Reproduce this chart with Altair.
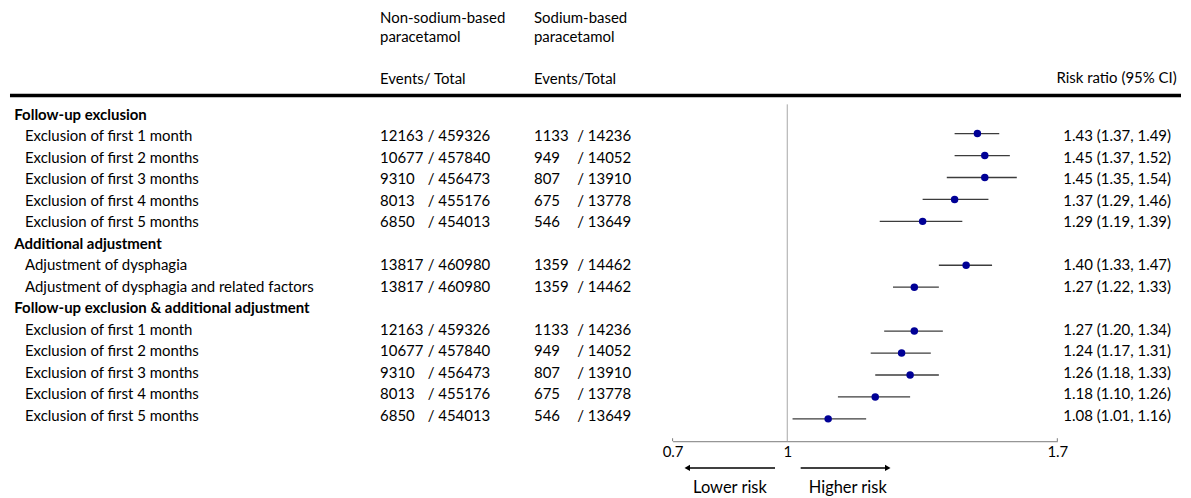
import altair as alt
import pandas as pd

# ---------------- data ----------------
row_labels = [
    "Follow-up exclusion",
    "Exclusion of first 1 month",
    "Exclusion of first 2 months",
    "Exclusion of first 3 months",
    "Exclusion of first 4 months",
    "Exclusion of first 5 months",
    "Additional adjustment",
    "Adjustment of dysphagia",
    "Adjustment of dysphagia and related factors",
    "Follow-up exclusion & additional adjustment",
    "Exclusion of first 1 month",
    "Exclusion of first 2 months",
    "Exclusion of first 3 months",
    "Exclusion of first 4 months",
    "Exclusion of first 5 months",
]
row_is_section = [True, False, False, False, False, False, True, False, False,
                  True, False, False, False, False, False]
non_events = ["", "12163", "10677", "9310", "8013", "6850", "", "13817", "13817",
              "", "12163", "10677", "9310", "8013", "6850"]
non_totals = ["", "459326", "457840", "456473", "455176", "454013", "", "460980", "460980",
              "", "459326", "457840", "456473", "455176", "454013"]
na_events = ["", "1133", "949", "807", "675", "546", "", "1359", "1359",
             "", "1133", "949", "807", "675", "546"]
na_totals = ["", "14236", "14052", "13910", "13778", "13649", "", "14462", "14462",
             "", "14236", "14052", "13910", "13778", "13649"]
rr_est = [None, 1.43, 1.45, 1.45, 1.37, 1.29, None, 1.40, 1.27,
          None, 1.27, 1.24, 1.26, 1.18, 1.08]
rr_low = [None, 1.37, 1.37, 1.35, 1.29, 1.19, None, 1.33, 1.22,
          None, 1.20, 1.17, 1.18, 1.10, 1.01]
rr_high = [None, 1.49, 1.52, 1.54, 1.46, 1.39, None, 1.47, 1.33,
           None, 1.34, 1.31, 1.33, 1.26, 1.16]

x_tick_values = [0.806, 1.0, 1.662]
x_tick_labels = ["0.7", "1", "1.7"]
header_non = ["Non-sodium-based", "paracetamol", "Events/ Total"]
header_na = ["Sodium-based", "paracetamol", "Events/Total"]
header_rr = ["Risk ratio (95% CI)"]
direction_labels = ["Lower risk", "Higher risk"]

FONT = "Lato"
FS = 15

df = pd.DataFrame({
    "row": list(range(len(row_labels))),
    "label": row_labels,
    "section": row_is_section,
    "non_ev": non_events,
    "non_tot": ["/ " + t if t else "" for t in non_totals],
    "na_ev": na_events,
    "na_tot": ["/ " + t if t else "" for t in na_totals],
    "rr": rr_est,
    "lo": rr_low,
    "hi": rr_high,
})
df["rr_txt"] = [
    f"{e:.2f} ({l:.2f}, {h:.2f})" if e is not None else ""
    for e, l, h in zip(rr_est, rr_low, rr_high)
]

W, H = 1175, 433.7

xscale = alt.Scale(type="log", domain=[x_tick_values[0], x_tick_values[-1]],
                   range=[665.3, 1051], nice=False, zero=False)
# the forest graphic and the text table use slightly different row pitches
y_plot_scale = alt.Scale(domain=[0, 14], range=[103.3, 411.3], nice=False, zero=False)
y_text_scale = alt.Scale(domain=[0, 14], range=[106.5, 408.3], nice=False, zero=False)

label_expr = (f"datum.value < 0.9 ? '{x_tick_labels[0]}' : "
              f"(datum.value > 1.2 ? '{x_tick_labels[2]}' : '{x_tick_labels[1]}')")
xaxis = alt.Axis(values=x_tick_values, labelExpr=label_expr, title=None, grid=False,
                 ticks=False, tickSize=0, domainColor="#7a7a7a", domainWidth=1,
                 labelFont=FONT, labelFontSize=FS, labelColor="black", labelPadding=3,
                 labelFlush=False, labelOverlap=False)

Yp = alt.Y("row:Q", scale=y_plot_scale, axis=None)
Yt = alt.Y("row:Q", scale=y_text_scale, axis=None)
base = alt.Chart(df)

layers = []

# thick header rule
layers.append(
    alt.Chart(pd.DataFrame({"a": [0]})).mark_rule(color="black", strokeWidth=3.5)
    .encode(x=alt.value(1), x2=alt.value(W), y=alt.value(87))
)
# reference line at 1
layers.append(
    alt.Chart(pd.DataFrame({"ref": [1.0]})).mark_rule(color="#a8a8a8", strokeWidth=1)
    .encode(x=alt.X("ref:Q", scale=xscale, axis=xaxis), y=alt.value(96), y2=alt.value(H))
)
# small end ticks on the axis
layers.append(
    alt.Chart(pd.DataFrame({"t": [x_tick_values[0], x_tick_values[-1]]}))
    .mark_rule(color="#7a7a7a", strokeWidth=1)
    .encode(x=alt.X("t:Q", scale=xscale, axis=xaxis), y=alt.value(H - 3), y2=alt.value(H))
)
# CI lines
layers.append(
    base.transform_filter("isValid(datum.rr)")
    .mark_rule(color="#3c3c3c", strokeWidth=1.3)
    .encode(x=alt.X("lo:Q", scale=xscale, axis=xaxis), x2="hi:Q", y=Yp)
)
# point estimates
layers.append(
    base.transform_filter("isValid(datum.rr)")
    .mark_circle(color="#000096", size=56, opacity=1)
    .encode(x=alt.X("rr:Q", scale=xscale, axis=xaxis), y=Yp)
)

def col_text(field, xpos, align="left", bold=False, filt=None):
    c = base
    if filt:
        c = c.transform_filter(filt)
    return c.mark_text(align=align, baseline="middle", font=FONT, fontSize=FS,
                       fontWeight="bold" if bold else "normal", color="black"
                       ).encode(x=alt.value(xpos), y=Yt, text=f"{field}:N")

layers.append(col_text("label", 5.3, bold=True, filt="datum.section"))
layers.append(col_text("label", 16, filt="!datum.section"))
layers.append(col_text("non_ev", 372))
layers.append(col_text("non_tot", 419.7))
layers.append(col_text("na_ev", 526.3))
layers.append(col_text("na_tot", 569.7))
layers.append(col_text("rr_txt", 1165, align="right"))

# column headers
header_y = [9, 28.5, 70.5]
for xpos, texts in [(372, header_non), (526.3, header_na)]:
    for t, yy in zip(texts, header_y):
        layers.append(
            alt.Chart(pd.DataFrame({"t": [t]})).mark_text(
                align="left", baseline="middle", font=FONT, fontSize=FS, color="black")
            .encode(text="t:N", x=alt.value(xpos), y=alt.value(yy))
        )
layers.append(
    alt.Chart(pd.DataFrame({"t": header_rr})).mark_text(
        align="right", baseline="middle", font=FONT, fontSize=FS, color="black")
    .encode(text="t:N", x=alt.value(1170.7), y=alt.value(70))
)

# direction arrows
arrow_y = 460.5
layers.append(
    alt.Chart(pd.DataFrame({"a": [0]})).mark_rule(color="black", strokeWidth=1.5)
    .encode(x=alt.value(681), x2=alt.value(768), y=alt.value(arrow_y))
)
layers.append(
    alt.Chart(pd.DataFrame({"a": [0]})).mark_rule(color="black", strokeWidth=1.5)
    .encode(x=alt.value(793.7), x2=alt.value(880), y=alt.value(arrow_y))
)
layers.append(
    alt.Chart(pd.DataFrame({"a": [0]})).mark_point(shape="triangle-left", filled=True,
                                                   color="black", size=40, opacity=1)
    .encode(x=alt.value(680), y=alt.value(arrow_y))
)
layers.append(
    alt.Chart(pd.DataFrame({"a": [0]})).mark_point(shape="triangle-right", filled=True,
                                                   color="black", size=40, opacity=1)
    .encode(x=alt.value(881), y=alt.value(arrow_y))
)
for t, xpos in zip(direction_labels, [722.8, 840.9]):
    layers.append(
        alt.Chart(pd.DataFrame({"t": [t]})).mark_text(
            align="center", baseline="middle", font=FONT, fontSize=16.5, color="black")
        .encode(text="t:N", x=alt.value(xpos), y=alt.value(481))
    )

chart = alt.layer(*layers).resolve_scale(y="independent").properties(
    width=W, height=H, padding=0, background="white"
).configure_view(stroke=None)

chart.save("out.html", embed_options={"renderer": "svg", "actions": False})
